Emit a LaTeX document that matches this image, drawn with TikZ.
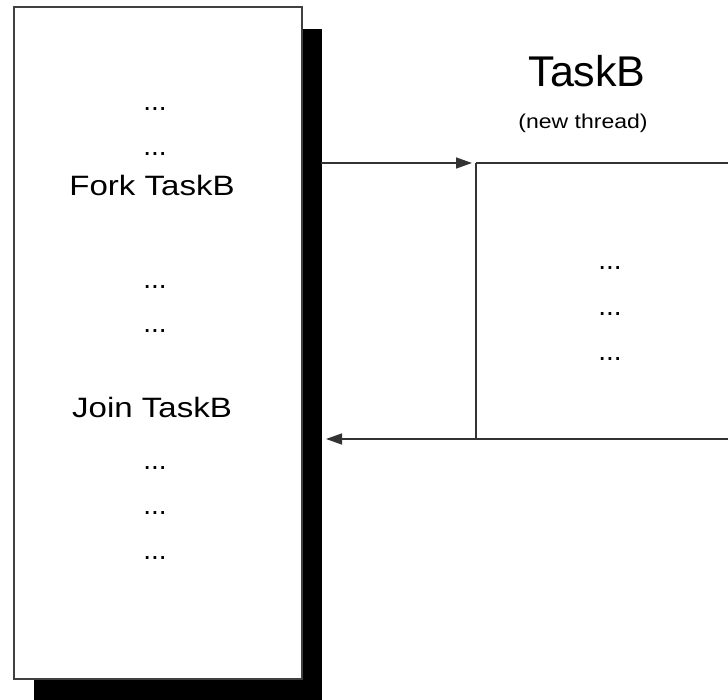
\documentclass[tikz,border=0pt]{standalone}
\usepackage{fontspec}
\setmainfont{Liberation Sans}
\usetikzlibrary{arrows.meta,shadows}

% the labels are set a little wider than the font draws them
\newcommand\wider[2][1.18]{\scalebox{#1}[1]{#2}}

\begin{document}
\begin{tikzpicture}[x=1pt,y=-1pt,
    wire/.style={draw=black!80, line width=1.5pt},
    tip/.style={-{Triangle[length=16pt,width=11pt]}},
    code/.style={font=\fontsize{28}{28}\selectfont, inner sep=0pt},
    dots/.style={code, anchor=base},
    small/.style={font=\fontsize{20}{20}\selectfont, inner sep=0pt},
    title/.style={font=\fontsize{43}{43}\selectfont, inner sep=0pt}]

  \useasboundingbox (0,0) rectangle (728,700);

  % ----------------------------------------------------------------
  % main task, with its hard shadow
  % ----------------------------------------------------------------
  \node[draw=black!75, line width=1.6pt, fill=white, anchor=north west,
        minimum width=288pt, minimum height=672pt,
        drop shadow={shadow xshift=20pt, shadow yshift=-22pt,
                     fill=black, opacity=1}] (main) at (13,6) {};

  % dots sit on their baseline
  \node[dots] (m1) at (155,111) {...};
  \node[dots] (m2) at (155,156) {...};
  \node[code] (fork) at (152,185) {\wider{Fork TaskB}};
  \node[dots] (m3) at (155,289) {...};
  \node[dots] (m4) at (155,333) {...};
  \node[code] (join) at (152,407) {\wider{Join TaskB}};
  \node[dots] (m5) at (155,469) {...};
  \node[dots] (m6) at (155,514) {...};
  \node[dots] (m7) at (155,559) {...};

  % ----------------------------------------------------------------
  % TaskB on the right
  % ----------------------------------------------------------------
  \node[title] (taskb) at (587,71) {TaskB};
  \node[small] (thread) at (583,123) {\wider[1.15]{(new thread)}};

  \node[dots] (b1) at (610,270) {...};
  \node[dots] (b2) at (610,316) {...};
  \node[dots] (b3) at (610,360) {...};

  \coordinate (forkout) at (321,163);
  \coordinate (btop)    at (476,163);
  \coordinate (etop)    at (728,163);
  \coordinate (bbot)    at (476,439);
  \coordinate (ebot)    at (728,439);
  \coordinate (joinin)  at (320,439);

  % fork and join
  \draw[wire, tip, shorten >=4pt] (forkout) -- (btop);
  \draw[wire] (btop) -- (etop);
  \draw[wire] (btop) -- (bbot);
  \draw[wire] (ebot) -- (bbot);
  \draw[wire, tip, shorten >=6pt] (bbot) -- (joinin);

\end{tikzpicture}
\end{document}
